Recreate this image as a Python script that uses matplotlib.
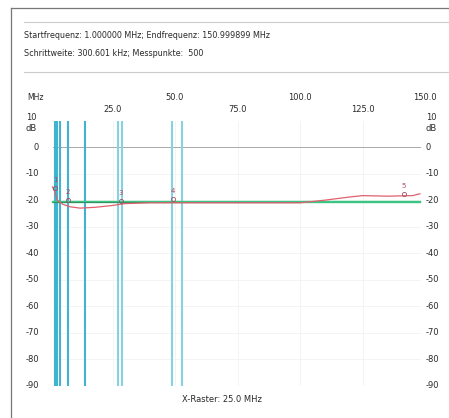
import numpy as np
import matplotlib
matplotlib.use("Agg")
import matplotlib.pyplot as plt
from matplotlib.lines import Line2D
from matplotlib.transforms import blended_transform_factory

# measured trace (MHz, dB)
trace_f = [1, 2, 3, 5, 8, 12, 18, 25, 30, 40, 60, 80, 100, 110, 120, 125, 135, 145, 148]
trace_db = [-15, -17, -20, -21.5, -22.5, -23, -22.7, -22, -21.3, -21, -21, -21, -21,
            -20, -18.8, -18.3, -18.5, -18.3, -17.6]
ref_db = -20.6          # green reference level
# cursor lines (MHz)
cursor_dark = [2.0, 2.9, 4.0, 7.3, 14.0]
cursor_light = [27.3, 28.7, 48.9, 52.9]
# markers
mark_id = ["1", "2", "3", "4", "5"]
mark_f = [2.0, 7.0, 28.4, 49.0, 141.6]
mark_db = [-15.5, -20.0, -20.3, -19.5, -17.5]

x_top = [50, 100, 150]
x_low = [25, 75, 125]
y_ticks = list(range(0, -100, -10))

W, H = 449, 418
fig = plt.figure(figsize=(W / 100, H / 100), dpi=100)
fig.patch.set_facecolor("white")

def px(x, y):
    return x / W, 1 - y / H

# outer frame and header separators
fig.add_artist(Line2D([11 / W, 11 / W], [0, 1 - 8 / H], color="#777777", lw=0.9))
fig.add_artist(Line2D([11 / W, 1], [1 - 8 / H, 1 - 8 / H], color="#777777", lw=0.9))
for yy in (22, 72):
    fig.add_artist(Line2D([24 / W, 1], [1 - yy / H] * 2, color="#cccccc", lw=0.8))
fig.text(*px(24, 35), "Startfrequenz: 1.000000 MHz; Endfrequenz: 150.999899 MHz",
         fontsize=5.8, va="center", color="#2a2a2a")
fig.text(*px(24, 53), "Schrittweite: 300.601 kHz; Messpunkte:  500",
         fontsize=5.8, va="center", color="#2a2a2a")

left, right = 50, 425
top, bottom = 120.5, 386
ax = fig.add_axes([left / W, 1 - bottom / H, (right - left) / W, (bottom - top) / H])
ax.set_xlim(0, 150)
ax.set_ylim(-90, 10)
ax.axis("off")

# faint grid
for v in range(-10, -100, -10):
    ax.plot([1, 148], [v, v], color="#f3f3f3", lw=0.6, zorder=0)
for v in x_low + x_top[:-1]:
    ax.plot([v, v], [-90, 10], color="#f3f3f3", lw=0.6, zorder=0)
ax.plot([1, 148], [0, 0], color="#aaaaaa", lw=0.7, zorder=1)

for f in cursor_dark:
    ax.plot([f, f], [-90, 10], color="#3fb3cf", lw=1.5, zorder=2)
for f in cursor_light:
    ax.plot([f, f], [-90, 10], color="#86d2e2", lw=1.5, zorder=2)

ax.plot([1, 148], [ref_db, ref_db], color="#3cc483", lw=1.7, zorder=3)
ax.plot([1, 100], [ref_db - 0.2, ref_db - 0.2], color="#2f4a3a", lw=0.5, alpha=0.6, zorder=4)
ax.plot(trace_f, trace_db, color="#e0606e", lw=0.9, zorder=5)

for lab, f, d in zip(mark_id, mark_f, mark_db):
    ax.plot(f, d, "o", ms=3, mfc="none", mec="#a05060", mew=0.6, zorder=6)
    ax.text(f, d + 1.8, lab, fontsize=5, ha="center", va="bottom", color="#b04858", zorder=6)

# axis labels drawn as text
tr = blended_transform_factory(ax.transData, fig.transFigure)
for v in x_top:
    ax.text(v, 1 - 98 / H, f"{v:.1f}", transform=tr, fontsize=6, ha="center", va="center", color="#2a2a2a")
for v in x_low:
    ax.text(v, 1 - 110 / H, f"{v:.1f}", transform=tr, fontsize=6, ha="center", va="center", color="#2a2a2a")
fig.text(*px(35, 98), "MHz", fontsize=5.5, ha="center", va="center", color="#2a2a2a")

ty = blended_transform_factory(fig.transFigure, ax.transData)
for v in y_ticks:
    ax.text(39 / W, v, str(v), transform=ty, fontsize=6, ha="right", va="center", color="#2a2a2a")
    ax.text(426 / W, v, str(v), transform=ty, fontsize=6, ha="left", va="center", color="#2a2a2a")
ax.text(37 / W, 11, "10", transform=ty, fontsize=6, ha="right", va="center", color="#2a2a2a")
ax.text(37 / W, 7, "dB", transform=ty, fontsize=6, ha="right", va="center", color="#2a2a2a")
ax.text(437 / W, 11, "10", transform=ty, fontsize=6, ha="right", va="center", color="#2a2a2a")
ax.text(437 / W, 7, "dB", transform=ty, fontsize=6, ha="right", va="center", color="#2a2a2a")

fig.text(*px(222, 400), "X-Raster: 25.0 MHz", fontsize=6, ha="center", va="center", color="#2a2a2a")

fig.savefig("out.png", dpi=100)
